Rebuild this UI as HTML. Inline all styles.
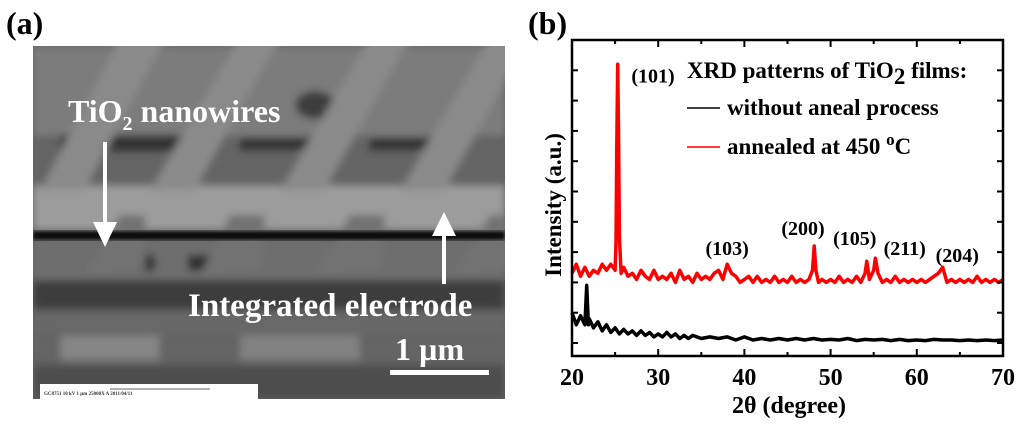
<!DOCTYPE html>
<html><head><meta charset="utf-8">
<style>
body{margin:0;width:1024px;height:424px;background:#fff;overflow:hidden;font-family:"Liberation Serif",serif}
svg{display:block}
text{font-family:"Liberation Serif",serif;font-weight:bold}
</style></head>
<body>
<svg id="fig" width="1024" height="424" viewBox="0 0 1024 424">
<defs>
<filter id="bl" x="-20%" y="-20%" width="140%" height="140%"><feGaussianBlur stdDeviation="4"/></filter>
<filter id="bl2"><feGaussianBlur stdDeviation="1.5"/></filter>
<clipPath id="semclip"><rect x="33" y="46" width="472" height="353"/></clipPath>
</defs>
<text x="6" y="34" font-size="32">(a)</text>
<g clip-path="url(#semclip)">
<rect x="33" y="46" width="472" height="353" fill="#646464"/>
<g filter="url(#bl)">
<rect x="33" y="46" width="472" height="90" fill="#7c7c7c"/>
<rect x="60" y="135" width="120" height="16" fill="#333"/>
<rect x="240" y="138" width="90" height="12" fill="#333"/>
<rect x="370" y="138" width="80" height="12" fill="#333"/>
<ellipse cx="315" cy="105" rx="20" ry="14" fill="#3c3c3c"/>
<rect x="33" y="185" width="472" height="45" fill="#9c9c9c"/>
<rect x="33" y="240" width="472" height="40" fill="#6e6e6e"/>
<rect x="33" y="280" width="472" height="30" fill="#3e3e3e"/>
<rect x="33" y="310" width="472" height="22" fill="#686868"/>
<rect x="60" y="335" width="100" height="25" fill="#858585"/>
<rect x="240" y="335" width="120" height="25" fill="#828282"/>
<rect x="33" y="365" width="472" height="34" fill="#4e4e4e"/>
<rect x="95" y="255" width="60" height="16" fill="#2e2e2e"/>
<rect x="188" y="255" width="55" height="16" fill="#2e2e2e"/>
<polygon points="40,190 130,20 175,20 85,190" fill="#8a8a8a"/>
<polygon points="150,190 250,20 290,20 195,190" fill="#8a8a8a"/>
<polygon points="280,190 380,20 420,20 325,190" fill="#8a8a8a"/>
<polygon points="400,190 500,20 540,20 445,190" fill="#8a8a8a"/>
<polygon points="85,275 120,215 145,215 145,270" fill="#727272"/>
<polygon points="200,275 230,215 265,215 260,270" fill="#727272"/>
<polygon points="315,275 350,215 385,215 380,270" fill="#727272"/>
<polygon points="455,275 490,215 510,215 510,270" fill="#727272"/>
</g>
<rect x="33" y="231" width="472" height="9" fill="#111" filter="url(#bl2)"/>
<rect x="40" y="384" width="218" height="15" fill="#fff"/>
<text x="44" y="395" font-size="5" fill="#333" font-weight="normal">GC8751   10 kV    1 µm    25000X    A     2011/04/11</text>
<line x1="110" y1="389" x2="210" y2="389" stroke="#333" stroke-width="0.8"/>
</g>
<text x="68" y="122" font-size="32" fill="#fff">TiO<tspan font-size="20" dy="8">2</tspan><tspan dy="-8"> nanowires</tspan></text>
<g><line x1="105" y1="142" x2="105" y2="232" stroke="#fff" stroke-width="4"/><polygon points="93,222 117,222 105,247" fill="#fff"/></g>
<g><line x1="444" y1="284" x2="444" y2="228" stroke="#fff" stroke-width="4"/><polygon points="432,236 456,236 444,212" fill="#fff"/></g>
<text x="188" y="316" font-size="33" fill="#fff">Integrated electrode</text>
<text x="395" y="360" font-size="32" fill="#fff">1 µm</text>
<rect x="390" y="370" width="99" height="5" fill="#fff"/>

<text x="528" y="34" font-size="32">(b)</text>
<g id="chart"></g>
</svg>
<script>
const xTicks=[20,30,40,50,60,70];
const redX=[20,20.5,21,21.5,22,22.5,23,23.5,24,24.5,25,25.1,25.2,25.3,25.4,25.5,25.7,26,26.5,27,27.5,28,28.5,29,29.5,30,30.5,31,31.5,32,32.5,33,33.5,34,34.5,35,35.5,36,36.5,37,37.5,38,38.5,39,39.5,40,40.5,41,41.5,42,42.5,43,43.5,44,44.5,45,45.5,46,46.5,47,47.5,47.9,48.1,48.3,48.6,49,49.5,50,50.5,51,51.5,52,52.5,53,53.5,54,54.2,54.5,55,55.2,55.5,56,56.5,57,57.5,58,58.5,59,59.5,60,60.5,61,61.5,62,62.5,63,63.5,64,64.5,65,65.5,66,66.5,67,67.5,68,68.5,69,69.5,70];
const redY=[2.3,2.6,2.2,2.5,2.2,2.4,2.3,2.6,2.4,2.6,2.4,3.3,6.5,9.2,7.0,3.5,2.3,2.5,2.2,2.3,2.1,2.4,2.2,2.1,2.4,2.1,2.2,2.1,2.3,2.0,2.4,2.1,2.2,2.0,2.3,2.1,2.2,2.1,2.3,2.4,2.1,2.6,2.3,2.2,2.0,2.1,2.2,2.0,2.2,2.0,2.1,2.0,2.2,2.0,2.1,2.0,2.2,2.0,2.1,2.0,2.1,2.4,3.2,2.4,2.0,2.1,2.0,2.1,2.0,2.2,2.0,2.1,2.0,2.2,2.0,2.3,2.7,2.1,2.4,2.8,2.3,2.0,2.1,2.0,2.2,2.0,2.1,2.0,2.1,2.0,2.1,2.0,2.1,2.2,2.3,2.5,2.0,2.1,2.0,2.1,2.0,2.1,2.0,2.2,2.0,2.1,2.0,2.1,2.0,2.1];
const blackX=[20,20.5,21,21.5,21.7,21.9,22,22.5,23,23.5,24,24.5,25,25.5,26,26.5,27,27.5,28,28.5,29,29.5,30,30.5,31,31.5,32,32.5,33,33.5,34,35,36,37,38,39,40,41,42,43,44,45,46,47,48,49,50,51,52,53,54,55,56,57,58,59,60,61,62,63,64,65,66,67,68,69,70];
const blackY=[1.0,0.6,0.9,0.6,1.9,0.6,0.8,0.5,0.7,0.4,0.6,0.35,0.5,0.3,0.45,0.3,0.4,0.25,0.4,0.25,0.35,0.2,0.3,0.2,0.35,0.2,0.3,0.15,0.25,0.15,0.25,0.15,0.2,0.15,0.2,0.1,0.2,0.1,0.15,0.1,0.15,0.1,0.15,0.1,0.15,0.1,0.12,0.1,0.15,0.08,0.12,0.1,0.12,0.08,0.12,0.08,0.1,0.08,0.12,0.1,0.1,0.08,0.1,0.08,0.1,0.08,0.1];
const peakLabels=["(101)","(103)","(200)","(105)","(211)","(204)"];
const peakLabelX=[29.4,38.0,46.8,52.8,58.6,64.7];
const peakLabelY=[8.6,2.9,3.56,3.23,2.9,2.67];

const NS='http://www.w3.org/2000/svg';
const g=document.getElementById('chart');
const L=572,R=1003,T=40,B=356;
const sx=v=>L+(v-20)/50*(R-L);
const sy=v=>343-v*30.3;
function el(t,a,p){const e=document.createElementNS(NS,t);for(const k in a)e.setAttribute(k,a[k]);(p||g).appendChild(e);return e;}
const pr=redX.map((x,i)=>sx(x).toFixed(1)+','+sy(redY[i]).toFixed(1)).join(' ');
const redLine=el('polyline',{points:pr,fill:'none',stroke:'#f00','stroke-width':3.5,'stroke-linejoin':'round'});


const pb=blackX.map((x,i)=>sx(x).toFixed(1)+','+sy(blackY[i]).toFixed(1)).join(' ');
const blackLine=el('polyline',{points:pb,fill:'none',stroke:'#000','stroke-width':3.5,'stroke-linejoin':'round'});


const fr=el('rect',{x:L,y:T,width:R-L,height:B-T,fill:'none',stroke:'#000','stroke-width':2.5});


for(let v=20;v<=70;v+=5){
 const major=v%10===0;
 const t=el('line',{x1:sx(v),x2:sx(v),y1:B,y2:B-(major?7:4),stroke:'#000','stroke-width':2});
 
 
 const t2=el('line',{x1:sx(v),x2:sx(v),y1:T,y2:T+(major?7:4),stroke:'#000','stroke-width':2});
 
 
}
xTicks.forEach(v=>{
 const t=el('text',{x:sx(v),y:385,'font-size':24,'text-anchor':'middle'});t.textContent=v;
 
 
});
for(let i=0;i<=9;i++){
 const y=sy(i);
 const a=el('line',{x1:L,x2:L+6,y1:y,y2:y,stroke:'#000','stroke-width':2});
 
 
 const b=el('line',{x1:R,x2:R-6,y1:y,y2:y,stroke:'#000','stroke-width':2});
 
 
}
const xt=el('text',{x:789,y:413,'font-size':24,'text-anchor':'middle'});xt.textContent='2θ (degree)';


const yt=el('text',{x:0,y:0,'font-size':23,'text-anchor':'middle',transform:'translate(561,205) rotate(-90)'});yt.textContent='Intensity (a.u.)';


peakLabels.forEach((s,i)=>{
 const t=el('text',{x:sx(peakLabelX[i]),y:sy(peakLabelY[i]),'font-size':20,'text-anchor':'middle'});t.textContent=s;
 
 
});
const lg=el('g',{});


const lt=el('text',{x:687,y:78,'font-size':23},lg);
lt.innerHTML='XRD patterns of TiO<tspan font-size="23" dy="6">2</tspan><tspan dy="-6"> films:</tspan>';


const ln1=el('line',{x1:687,x2:720,y1:108,y2:108,stroke:'#000','stroke-width':1.5},lg);


const t1=el('text',{x:727,y:115,'font-size':23},lg);t1.textContent='without aneal process';


const ln2=el('line',{x1:687,x2:720,y1:147,y2:147,stroke:'#f00','stroke-width':1.5},lg);


const t2=el('text',{x:727,y:154,'font-size':23},lg);
t2.innerHTML='annealed at 450 <tspan font-size="17" dy="-9">o</tspan><tspan dy="9">C</tspan>';


</script>
</body></html>
